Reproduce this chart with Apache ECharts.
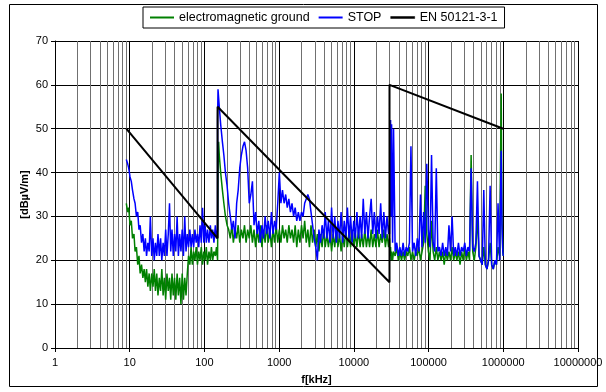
<!DOCTYPE html>
<html>
<head>
<meta charset="utf-8">
<script src="https://cdn.jsdelivr.net/npm/echarts@6/dist/echarts.min.js"></script>
<style>
  html, body { margin: 0; padding: 0; background: #fff; }
  #chart { width: 606px; height: 392px; }
</style>
</head>
<body>
<div id="chart"></div>
<script>
// measured traces, [f in kHz, level in dBuV/m]
const ground1 = [[9,33],[9.4,31],[9.7,32],[10.1,28],[10.5,29],[10.9,25],[11.4,26],[11.8,22],[12.3,23],[12.8,19],[13.3,21],[13.8,17],[14.4,19],[15,16],[15.6,18],[16.2,15],[16.8,18],[17.5,14],[18.2,17],[18.9,13],[19.7,17],[20.5,14],[21.3,18],[22.1,13],[23,17],[23.9,12],[24.9,16],[25.9,13],[26.9,18],[28,12],[29.1,16],[30.3,11],[31.5,17],[32.8,13],[34.1,16],[35.4,11],[36.8,17],[38.3,12],[39.8,16],[41.4,11],[43.1,17],[44.8,12],[46.6,16],[48.5,10],[50.4,17],[52.4,11],[54.5,16],[56.7,12],[59,17],[61.3,21],[63.8,19],[66.3,23],[69,19],[71.7,22],[74.6,20],[77.6,23],[80.7,19],[83.9,22],[87.3,20],[90.8,23],[94.4,19],[98.2,22],[102,20],[106,23],[110,19],[115,22],[120,20],[124,23],[129,20],[134,22],[140,21],[145,23],[150,20]];
const ground2 = [[150,20],[152,40],[155,47],[158,44],[165,40],[174,36],[182,33],[191,30],[201,28],[211,27],[222,25],[233,28],[244,24],[257,27],[270,25],[283,28],[297,24],[312,27],[328,25],[344,28],[361,24],[379,27],[398,25],[418,28],[439,24],[461,27],[484,23],[508,27],[534,24],[560,28],[588,23],[618,27],[649,24],[681,28],[715,24],[751,27],[788,23],[828,27],[869,24],[913,28],[958,24],[1006,27],[1056,24],[1109,28],[1165,25],[1223,27],[1284,24],[1348,28],[1416,25],[1487,27],[1561,24],[1639,28],[1721,23],[1807,27],[1897,24],[1992,28],[2092,25],[2196,29],[2306,24],[2421,27],[2543,23],[2670,28],[2803,24],[2943,27],[3090,23],[3245,26],[3407,22],[3578,26],[3757,23],[3945,27],[4142,23],[4349,26],[4566,23],[4795,26],[5034,22],[5286,26],[5550,23],[5828,27],[6119,23],[6425,26],[6747,22],[7084,26],[7438,23],[7810,27],[8201,23],[8611,26],[9041,23],[9493,27],[9968,23],[10466,26],[10990,23],[11539,27],[12116,23],[12722,26],[13358,23],[14026,27],[14727,23],[15464,26],[16237,23],[17049,27],[17901,23],[18796,26],[19736,23],[20723,27],[21759,23],[22847,26],[23990,24],[25189,27],[26449,23],[27771,26],[29160,23],[30000,25]];
const ground3 = [[30000,25],[30500,21],[31000,23],[31500,20],[32000,22],[33000,20],[34000,22],[35700,21],[37500,23],[39400,20],[41300,22],[43400,20],[45600,22],[47800,20],[50200,22],[52700,21],[55400,23],[58100,20],[61000,22],[64100,20],[67300,22],[70700,21],[74200,23],[77900,20],[81800,22],[85900,24],[90200,37],[94700,26],[99400,22],[104400,20],[109600,29],[115100,22],[120800,20],[126900,23],[133200,20],[139900,22],[146900,20],[154200,22],[161900,19],[170000,22],[178500,20],[187400,22],[196800,20],[206700,23],[217000,20],[227800,22],[239200,20],[251200,22],[263700,19],[276900,22],[290800,20],[305300,23],[320600,20],[336600,22],[353400,20],[371100,44],[389700,22],[409100,20],[429600,23],[451100,30],[473600,21],[497300,20],[522200,19],[548300,23],[575700,19],[604500,18],[634700,20],[666400,24],[699800,19],[734800,18],[771500,20],[810100,19],[850600,23],[893100,21],[937800,58],[960000,30],[985000,22],[1000000,21]];

const stop1 = [[9,43],[9.4,42],[9.7,41],[10.1,39],[10.5,38],[10.9,36],[11.4,34],[11.8,33],[12.3,30],[12.8,31],[13.3,27],[13.8,28],[14.4,24],[15,26],[15.6,22],[16.2,25],[16.8,21],[17.5,24],[18.2,22],[18.9,30],[19.7,21],[20.5,25],[21.3,20],[22.1,24],[23,21],[23.9,26],[24.9,21],[25.9,25],[26.9,20],[28,24],[29.1,21],[30.3,27],[31.5,21],[32.8,26],[34.1,33],[35.4,22],[36.8,27],[38.3,21],[39.8,26],[41.4,22],[43.1,30],[44.8,21],[46.6,26],[48.5,22],[50.4,27],[52.4,21],[54.5,30],[56.7,22],[59,26],[61.3,23],[63.8,27],[66.3,23],[69,26],[71.7,23],[74.6,27],[77.6,24],[80.7,26],[83.9,23],[87.3,28],[90.8,24],[94.4,32],[98.2,24],[102,28],[106,24],[110,27],[115,24],[120,28],[124,25],[129,27],[134,24],[140,28],[145,25],[150,27]];
const stop2 = [[150,52],[152,59],[158,55],[165,51],[174,47],[182,44],[191,40],[201,37],[211,33],[222,30],[233,27],[244,29],[257,25],[270,33],[283,36],[297,41],[312,44],[328,46],[344,47],[361,45],[379,41],[398,33],[418,35],[439,38],[461,28],[484,31],[508,26],[534,29],[560,24],[588,28],[618,25],[649,30],[681,26],[715,29],[751,25],[788,31],[828,26],[869,29],[913,27],[958,33],[1006,40],[1056,33],[1109,36],[1165,33],[1223,35],[1284,32],[1348,34],[1416,31],[1487,33],[1561,30],[1639,32],[1721,29],[1807,31],[1897,29],[1992,31],[2092,30],[2196,33],[2306,34],[2421,35],[2543,34],[2670,31],[2803,28],[2943,25],[3090,23],[3245,20],[3407,27],[3578,24],[3757,28],[3945,25],[4142,31],[4349,25],[4566,29],[4795,24],[5034,32],[5286,25],[5550,30],[5828,24],[6119,29],[6425,25],[6747,31],[7084,24],[7438,29],[7810,25],[8201,32],[8611,25],[9041,30],[9493,24],[9968,29],[10466,25],[10990,31],[11539,25],[12116,30],[12722,25],[13358,34],[14026,26],[14727,31],[15464,25],[16237,30],[17049,34],[17901,26],[18796,31],[19736,25],[20723,30],[21759,26],[22847,33],[23990,25],[25189,31],[26449,25],[27771,30],[29160,26],[30000,28]];
const stop3 = [[30000,26],[30500,45],[31000,52],[31500,30],[32000,51],[33000,24],[34000,50],[35700,22],[37500,24],[39400,21],[41300,23],[43400,21],[45600,24],[47800,21],[50200,23],[52700,22],[55400,24],[58100,46],[61000,22],[64100,24],[67300,21],[70700,25],[74200,22],[77900,35],[81800,23],[85900,31],[90200,24],[94700,42],[99400,27],[104400,23],[109600,44],[115100,24],[120800,22],[126900,41],[133200,22],[139900,23],[146900,21],[154200,24],[161900,21],[170000,23],[178500,21],[187400,28],[196800,22],[206700,30],[217000,21],[227800,23],[239200,21],[251200,24],[263700,21],[276900,23],[290800,22],[305300,24],[320600,21],[336600,23],[353400,22],[371100,41],[389700,23],[409100,22],[429600,24],[451100,38],[473600,21],[497300,20],[522200,19],[548300,36],[575700,19],[604500,18],[634700,20],[666400,37],[699800,19],[734800,18],[771500,20],[810100,19],[850600,33],[893100,20],[937800,45],[960000,28],[985000,22],[1000000,21]];

// EN 50121-3-1 limit
const limitData = [[9,50],[150,25],[150,55],[30000,15],[30000,60],[1000000,50]];

const xTicks = [1, 10, 100, 1000, 10000, 100000, 1000000, 10000000];

const groundData = ground1.concat(ground2, ground3);
const stopData = stop1.concat(stop2, stop3);

// minor vertical grid lines at 2..9 of every decade
let minorLines = [];
for (let d = 0; d < xTicks.length - 1; d++) {
    for (let k = 2; k <= 9; k++) {
        minorLines.push({ xAxis: k * xTicks[d] });
    }
}

const font = 'Liberation Sans, Arial, sans-serif';

let chart = echarts.init(document.getElementById('chart'));
let option = {
    animation: false,
    textStyle: { fontFamily: font },
    graphic: [{
        type: 'rect',
        shape: { x: 9.5, y: 4.5, width: 588, height: 382 },
        style: { fill: 'none', stroke: '#000', lineWidth: 1 },
        z: 0
    }],
    legend: {
        top: 7,
        left: 143,
        padding: [4, 7],
        itemGap: 9,
        itemWidth: 24,
        itemHeight: 2,
        borderColor: '#000',
        borderWidth: 1,
        borderRadius: 0,
        backgroundColor: '#fff',
        textStyle: { fontSize: 12.5, color: '#000', fontFamily: font },
        data: [
            { name: 'electromagnetic ground', icon: 'rect' },
            { name: 'STOP', icon: 'rect' },
            { name: 'EN 50121-3-1', icon: 'rect', itemStyle: { borderWidth: 0.5, borderColor: '#000' } }
        ]
    },
    grid: { left: 55, right: 28, top: 41, bottom: 44, containLabel: false },
    xAxis: {
        type: 'log',
        logBase: 10,
        min: 1,
        max: 10000000,
        name: 'f[kHz]',
        nameLocation: 'middle',
        nameGap: 26,
        nameTextStyle: { fontSize: 11, fontWeight: 'bold', color: '#000' },
        axisLine: { lineStyle: { color: '#000', width: 1 } },
        axisTick: { show: true, length: 4, lineStyle: { color: '#000' } },
        axisLabel: {
            fontSize: 11, color: '#000', margin: 9,
            formatter: v => String(Math.round(v))
        },
        splitLine: { show: true, lineStyle: { color: '#000', width: 1 } }
    },
    yAxis: {
        type: 'value',
        min: 0,
        max: 70,
        interval: 10,
        name: '[dBµV/m]',
        nameLocation: 'middle',
        nameGap: 25,
        nameMoveOverlap: false,
        nameTextStyle: { fontSize: 11, fontWeight: 'bold', color: '#000' },
        axisLine: { show: true, lineStyle: { color: '#000', width: 1 } },
        axisTick: { show: true, length: 4, lineStyle: { color: '#000' } },
        axisLabel: { fontSize: 11, color: '#000', margin: 7 },
        splitLine: { show: true, lineStyle: { color: '#000', width: 1 } }
    },
    series: [
        {
            name: 'electromagnetic ground',
            type: 'line',
            data: groundData,
            showSymbol: false,
            symbol: 'none',
            color: '#008000',
            lineStyle: { width: 1.5, color: '#008000' }
        },
        {
            name: 'STOP',
            type: 'line',
            data: stopData,
            showSymbol: false,
            symbol: 'none',
            color: '#0000ff',
            lineStyle: { width: 1.5, color: '#0000ff' }
        },
        {
            name: 'EN 50121-3-1',
            type: 'line',
            data: limitData,
            showSymbol: false,
            symbol: 'none',
            color: '#000',
            lineStyle: { width: 2, color: '#000' },
            markLine: {
                silent: true,
                symbol: 'none',
                label: { show: false },
                lineStyle: { color: '#707070', width: 1, type: 'solid' },
                z: 1,
                data: minorLines
            }
        }
    ]
};
chart.setOption(option);
</script>
</body>
</html>
